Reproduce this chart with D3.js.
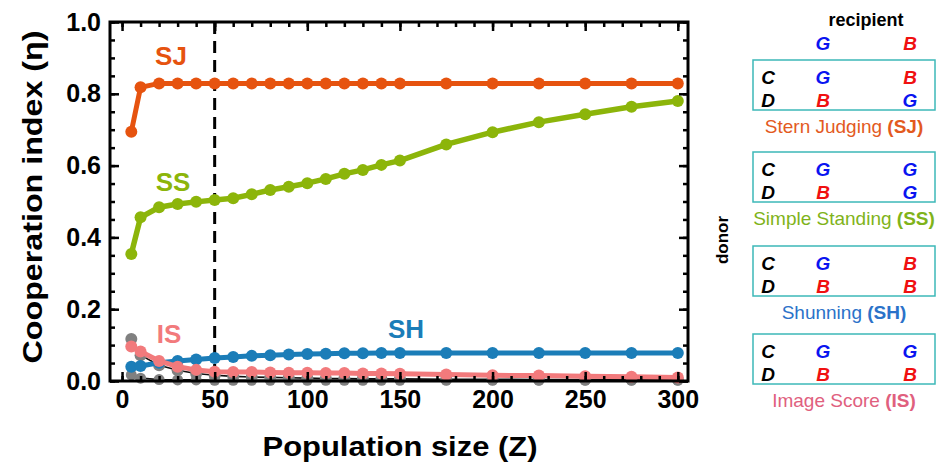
<!DOCTYPE html>
<html><head><meta charset="utf-8">
<script src="https://cdn.jsdelivr.net/npm/d3@7"></script>
<style>body{margin:0;background:#fff}svg{display:block}text{font-family:"Liberation Sans",Arial,sans-serif}</style>
</head><body><svg id="c" width="946" height="463"></svg>
<script>
const Z = [5,10,20,30,40,50,60,70,80,90,100,110,120,130,140,150,175,200,225,250,275,300];
const SJ = [0.694,0.818,0.829,0.829,0.829,0.829,0.829,0.829,0.829,0.829,0.829,0.829,0.829,0.829,0.829,0.829,0.829,0.829,0.829,0.829,0.829,0.829];
const SS = [0.354,0.456,0.484,0.493,0.499,0.504,0.509,0.520,0.532,0.541,0.551,0.563,0.577,0.588,0.602,0.614,0.659,0.693,0.721,0.743,0.764,0.780];
const SH = [0.040,0.042,0.051,0.056,0.060,0.064,0.067,0.070,0.072,0.074,0.075,0.076,0.077,0.077,0.078,0.078,0.078,0.078,0.078,0.078,0.078,0.078];
const IS = [0.096,0.082,0.056,0.040,0.031,0.026,0.025,0.025,0.024,0.023,0.023,0.022,0.022,0.021,0.021,0.020,0.018,0.016,0.015,0.013,0.012,0.010];
const GRAY1 = [0.117,0.072,0.044,0.030,0.021,0.016,0.013,0.011,0.010,0.009,0.008,0.007,0.007,0.006,0.006,0.006,0.005,0.005,0.004,0.004,0.004,0.004];
const GRAY2 = [0.017,0.008,0.004,0.003,0.003,0.002,0.002,0.002,0.002,0.002,0.002,0.002,0.002,0.002,0.002,0.002,0.002,0.002,0.002,0.002,0.002,0.002];
const xTicks = [0,50,100,150,200,250,300];
const yTicks = [0,0.2,0.4,0.6,0.8,1.0];
const xMinor = d3.range(0,301,10);
const yMinor = d3.range(0,1.001,0.05);
const seriesLabels = [
  {name:"SJ", values:SJ, color:"#e6530f", lx:171, ly:0.905},
  {name:"SS", values:SS, color:"#8cb50a", lx:173, ly:0.555},
  {name:"SH", values:SH, color:"#1b7db8", lx:406, ly:0.145},
  {name:"IS", values:IS, color:"#f27a7c", lx:169, ly:0.13}
];
const legend = [
  {title:"Stern Judging", abbr:"SJ", color:"#e35a1e", rows:[["G","B"],["B","G"]]},
  {title:"Simple Standing", abbr:"SS", color:"#7fb31a", rows:[["G","G"],["B","G"]]},
  {title:"Shunning", abbr:"SH", color:"#2b72c9", rows:[["G","B"],["B","B"]]},
  {title:"Image Score", abbr:"IS", color:"#e0607e", rows:[["G","G"],["B","B"]]}
];

const svg = d3.select("#c");
const L=110, R=688, T=22, B=381;
const x = d3.scaleLinear().domain([-6.5,305.5]).range([L,R]);
const y = d3.scaleLinear().domain([0,1]).range([B,T]);
const line = d3.line().x((d,i)=>x(Z[i])).y(d=>y(d));

svg.append("line").attr("x1",x(50)).attr("x2",x(50)).attr("y1",T).attr("y2",B)
  .attr("stroke","#000").attr("stroke-width",3).attr("stroke-dasharray","12,7");

function drawSeries(vals,color,lineColor,lw,r){
  const g=svg.append("g");
  g.append("path").datum(vals).attr("d",line).attr("fill","none")
   .attr("stroke",lineColor).attr("stroke-width",lw).attr("stroke-linejoin","round");
  g.selectAll("circle").data(vals).join("circle")
   .attr("cx",(d,i)=>x(Z[i])).attr("cy",d=>y(d)).attr("r",r).attr("fill",color);
}
drawSeries(GRAY2,"#808080","#111",1.6,5.5);
drawSeries(GRAY1,"#808080","#111",1.6,6);
drawSeries(SH,"#1b7db8","#1b7db8",5,6);
drawSeries(IS,"#f27a7c","#f27a7c",5,6);
drawSeries(SS,"#8cb50a","#8cb50a",5.5,6);
drawSeries(SJ,"#e6530f","#e6530f",5,6);

seriesLabels.forEach(s=>{
  svg.append("text").attr("x",s.lx).attr("y",y(s.ly)).attr("text-anchor","middle")
    .attr("dominant-baseline","central").attr("font-size",26).attr("font-weight","bold")
    .attr("fill",s.color).text(s.name);
});

svg.append("rect").attr("x",L).attr("y",T).attr("width",R-L).attr("height",B-T)
  .attr("fill","none").attr("stroke","#000").attr("stroke-width",3);

function styleAxis(g){ g.select(".domain").remove(); g.selectAll(".tick line").attr("stroke","#000").attr("stroke-width",2.5); }
const ax = svg.append("g").attr("transform",`translate(0,${B})`)
  .call(d3.axisBottom(x).tickValues(xTicks).tickSizeInner(-9).tickSizeOuter(0).tickPadding(13).tickFormat(d3.format("d")));
styleAxis(ax);
ax.selectAll("text").attr("font-size",25).attr("font-weight","bold").attr("fill","#000").attr("dy","0.55em");
const ay = svg.append("g").attr("transform",`translate(${L},0)`)
  .call(d3.axisLeft(y).tickValues(yTicks).tickSizeInner(-9).tickSizeOuter(0).tickPadding(9).tickFormat(d3.format(".1f")));
styleAxis(ay);
ay.selectAll("text").attr("font-size",25).attr("font-weight","bold").attr("fill","#000");
const axT = svg.append("g").attr("transform",`translate(0,${T})`)
  .call(d3.axisTop(x).tickValues(xTicks).tickSizeInner(-9).tickSizeOuter(0).tickFormat(""));
styleAxis(axT);
const ayR = svg.append("g").attr("transform",`translate(${R},0)`)
  .call(d3.axisRight(y).tickValues(yTicks).tickSizeInner(-9).tickSizeOuter(0).tickFormat(""));
styleAxis(ayR);
[[d3.axisBottom(x).tickValues(xMinor),`translate(0,${B})`],[d3.axisTop(x).tickValues(xMinor),`translate(0,${T})`],
 [d3.axisLeft(y).tickValues(yMinor),`translate(${L},0)`],[d3.axisRight(y).tickValues(yMinor),`translate(${R},0)`]]
 .forEach(([a,t])=>{ const g=svg.append("g").attr("transform",t).call(a.tickSizeInner(-5).tickSizeOuter(0).tickFormat("")); styleAxis(g); });

svg.append("text").attr("transform","translate(42,197) rotate(-90)").attr("text-anchor","middle")
  .attr("font-size",28).attr("font-weight","bold").attr("textLength",333).attr("lengthAdjust","spacingAndGlyphs")
  .text("Cooperation index (η)");
svg.append("text").attr("x",400).attr("y",456).attr("text-anchor","middle")
  .attr("font-size",28).attr("font-weight","bold").attr("textLength",275).attr("lengthAdjust","spacingAndGlyphs")
  .text("Population size (Z)");

const colC=768, colG=823, colB=910, bx=753, bw=182;
svg.append("text").attr("x",866).attr("y",26).attr("text-anchor","middle").attr("font-size",18).attr("font-weight","bold").text("recipient");
const gbColor = v => v==="G" ? "#0a14f0" : "#f01010";
[["G",colG],["B",colB]].forEach(([v,cx])=>{
  svg.append("text").attr("x",cx).attr("y",50).attr("text-anchor","middle").attr("font-size",19)
    .attr("font-weight","bold").attr("font-style","italic").attr("fill",gbColor(v)).text(v);
});
svg.append("text").attr("transform","translate(728,240) rotate(-90)").attr("text-anchor","middle")
  .attr("font-size",17).attr("font-weight","bold").text("donor");
const boxTop=[60,152,246,334];
legend.forEach((lg,k)=>{
  const t=boxTop[k];
  svg.append("rect").attr("x",bx).attr("y",t).attr("width",bw).attr("height",50)
    .attr("fill","none").attr("stroke","#3db8b8").attr("stroke-width",1.5);
  ["C","D"].forEach((a,r)=>{
    const yy=t+17+r*23;
    svg.append("text").attr("x",colC).attr("y",yy).attr("dominant-baseline","central").attr("text-anchor","middle")
      .attr("font-size",19).attr("font-weight","bold").attr("font-style","italic").text(a);
    [colG,colB].forEach((cx,j)=>{
      const v=lg.rows[r][j];
      svg.append("text").attr("x",cx).attr("y",yy).attr("dominant-baseline","central").attr("text-anchor","middle")
        .attr("font-size",19).attr("font-weight","bold").attr("font-style","italic").attr("fill",gbColor(v)).text(v);
    });
  });
  const tx=svg.append("text").attr("x",844).attr("y",t+66).attr("dominant-baseline","central").attr("text-anchor","middle")
    .attr("font-size",19).attr("fill",lg.color);
  tx.append("tspan").text(lg.title+" ");
  tx.append("tspan").attr("font-weight","bold").text("("+lg.abbr+")");
});
</script></body></html>
